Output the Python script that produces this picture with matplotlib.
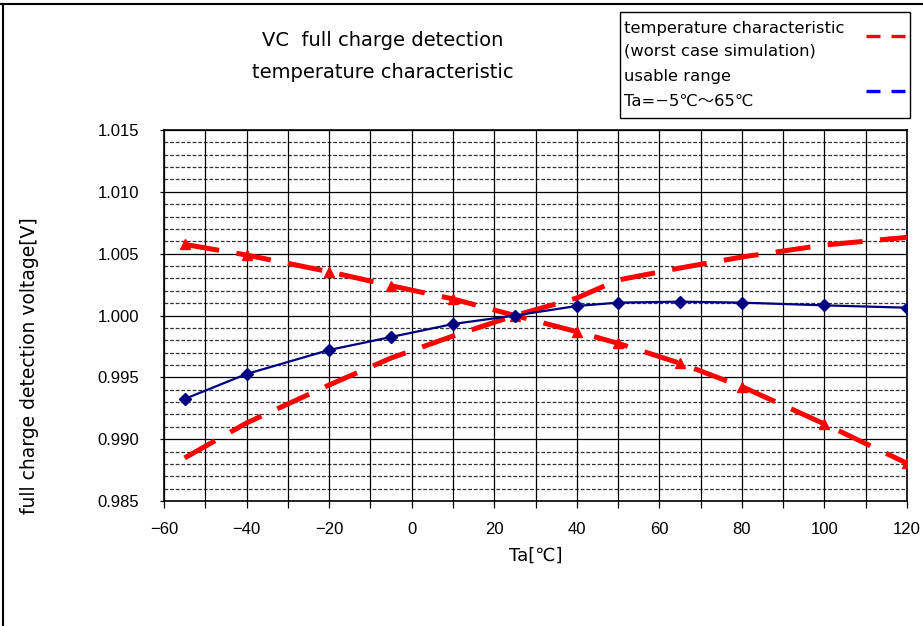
import matplotlib
matplotlib.use("Agg")
import matplotlib.pyplot as plt
from matplotlib.lines import Line2D
import numpy as np

plt.rcParams['font.family'] = ['DejaVu Sans', 'Noto Sans CJK JP']
TICKFONT = ['Liberation Sans', 'DejaVu Sans']

temps = [-55, -40, -20, -5, 10, 25, 40, 50, 65, 80, 100, 120]
usable = [0.99325, 0.99527, 0.99721, 0.99826, 0.99931, 1.0000, 1.00077, 1.00104, 1.00112, 1.00104, 1.00082, 1.00063]
worst_down = [1.00575, 1.00489, 1.00354, 1.00241, 1.00134, 1.0000, 0.99869, 0.99775, 0.99614, 0.99425, 0.99123, 0.98805]
worst_up = [0.98848, 0.99131, 0.99438, 0.99656, 0.99834, 1.0000, 1.00141, 1.00287, 1.00384, 1.00473, 1.0057, 1.00632]

xticks = [-60, -40, -20, 0, 20, 40, 60, 80, 100, 120]
yticks = [0.985, 0.990, 0.995, 1.000, 1.005, 1.010, 1.015]
ytick_labels = ["0.985", "0.990", "0.995", "1.000", "1.005", "1.010", "1.015"]

title_lines = ["VC  full charge detection", "temperature characteristic"]
xlabel = "Ta[℃]"
ylabel = "full charge detection voltage[V]"
legend_lines = ["temperature characteristic", "(worst case simulation)", "usable range", "Ta=−5℃～65℃"]

fig = plt.figure(figsize=(9.23, 6.26), dpi=100)
ax = fig.add_axes([164/923, 1-501/626, (907-164)/923, (501-130)/626])

ax.set_xlim(-60, 120)
ax.set_ylim(0.985, 1.015)

# grid
for v in np.arange(0.985, 1.0151, 0.001):
    major = abs(round(v / 0.005) * 0.005 - v) < 1e-7
    if major:
        ax.axhline(v, color='black', lw=0.9, zorder=1)
    else:
        ax.axhline(v, color='#333333', lw=0.9, ls=(0, (3, 1.5)), zorder=1)
for xv in range(-60, 121, 10):
    ax.axvline(xv, color='black', lw=0.9, zorder=1)

ax.set_xticks(list(range(-60, 121, 10)))
ax.set_xticklabels([str(t).replace('-', '−') if t in xticks else '' for t in range(-60, 121, 10)],
                   fontsize=12, family=TICKFONT)
ax.set_yticks(yticks)
ax.set_yticklabels(ytick_labels, fontsize=12, family=TICKFONT)
ax.tick_params(axis='x', direction='out', length=5, width=0.9, color='black', pad=10)
ax.tick_params(axis='y', direction='out', length=3, width=0.9, color='black', pad=15)
for s in ax.spines.values():
    s.set_linewidth(1.2)
    s.set_color('black')

dash = (0, (7, 3.5))
ax.plot(temps, worst_up, color='#FF0000', lw=3.6, ls=dash, zorder=3)
ax.plot(temps, worst_down, color='#FF0000', lw=3.6, ls=dash, marker='^', markersize=7, zorder=3)
ax.plot(temps, usable, color='#000080', lw=1.6, marker='D', markersize=6.5, zorder=4)

ax.set_xlabel(xlabel, fontsize=13, labelpad=7)
fig.text(30/923, 1-366/626, ylabel, rotation=90, fontsize=13.5, ha='center', va='center')

fig.text(383/923, 1-41/626, title_lines[0], fontsize=14, ha='center', va='center')
fig.text(383/923, 1-72/626, title_lines[1], fontsize=14, ha='center', va='center')

# legend box
fig.patches.append(matplotlib.patches.Rectangle((620/923, 1-118/626), (910-620)/923, (118-12)/626,
                   transform=fig.transFigure, fill=False, edgecolor='black', lw=1.0))
ly = [28, 51, 77, 101]
for t, y in zip(legend_lines, ly):
    fig.text(624/923, 1-y/626, t, fontsize=11.8, ha='left', va='center')
for (c, y) in [('#FF0000', 36), ('#0000FF', 91)]:
    for x0 in (866, 891):
        fig.lines.append(Line2D([x0/923, (x0+14)/923], [1-y/626, 1-y/626], color=c, lw=2.4,
                                transform=fig.transFigure, solid_capstyle='butt'))

# outer frame lines
fig.lines.append(Line2D([0, 1], [1-4/626, 1-4/626], color='black', lw=1.5, transform=fig.transFigure))
fig.lines.append(Line2D([3/923, 3/923], [0, 1-4/626], color='black', lw=1.5, transform=fig.transFigure))

fig.savefig("out.png", dpi=100)
